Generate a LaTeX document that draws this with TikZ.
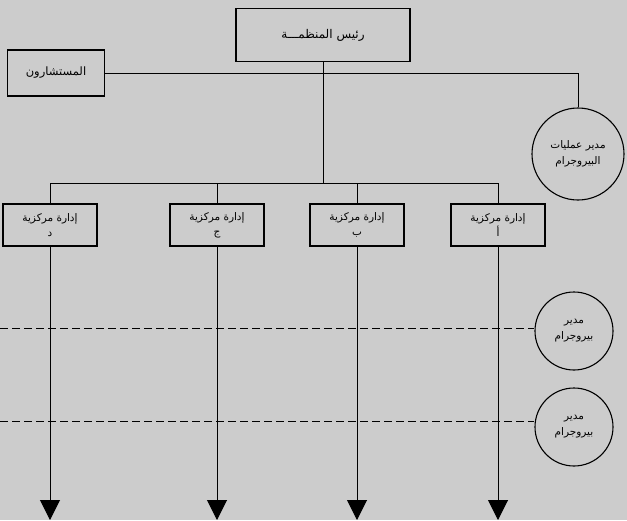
\documentclass[tikz,border=0pt]{standalone}
\usepackage{fontspec}
\newfontfamily\arabicfont[Script=Arabic]{DejaVu Sans}
\TeXXeTstate=1
\usetikzlibrary{arrows.meta}

\begin{document}
\begin{tikzpicture}[x=1pt,y=-1pt,
  unit/.style={draw,line width=1.1pt,minimum width=94pt,minimum height=42pt,inner sep=2pt,align=center,font=\arabicfont\fontsize{10.5}{15}\selectfont},
  manager/.style={draw,circle,line width=1.1pt,minimum size=78pt,inner sep=0pt,align=center,font=\arabicfont\fontsize{10.5}{16}\selectfont},
  tie/.style={line width=1pt},
  flow/.style={line width=1pt,-{Triangle[width=20pt,length=20pt]}},
  plan/.style={line width=1pt,dash pattern=on 8pt off 4pt}]
% define levels of the chart
\def\topy{73}
\def\busy{183}
\def\planay{328}
\def\planby{421}

% Add background
\fill[black!20] (0,0) rectangle (627,520);
\useasboundingbox (0,0) rectangle (627,520);

% Add head, advisers and operations manager
\node[unit,minimum width=174pt,minimum height=53pt,font=\arabicfont\fontsize{12}{14}\selectfont] (head) at (323,35) {\beginR رئيس المنظمـــة\endR};
\node[unit,minimum width=97pt,minimum height=46pt,font=\arabicfont\fontsize{11.5}{14}\selectfont] (advisers) at (56,\topy) {\beginR المستشارون\endR};
\node[manager,minimum size=92pt] (opsmgr) at (578,154) {\beginR مدير عمليات\endR\\\beginR البيروجرام\endR};

% Add central departments
\node[unit] (deptd) at (50,225) {\beginR إدارة مركزية\endR\\\beginR د\endR};
\node[unit] (deptj) at (217,225) {\beginR إدارة مركزية\endR\\\beginR ج\endR};
\node[unit] (deptb) at (357,225) {\beginR إدارة مركزية\endR\\\beginR ب\endR};
\node[unit] (depta) at (498,225) {\beginR إدارة مركزية\endR\\\beginR أ\endR};

% Add program managers
\node[manager] (planmgra) at (574,331) {\beginR مدير\endR\\\beginR بيروجرام\endR};
\node[manager] (planmgrb) at (574,427) {\beginR مدير\endR\\\beginR بيروجرام\endR};

% Add connectors of the top level
\draw[tie] (advisers.east) -| (opsmgr.north);
\draw[tie] (head.south) -- (head.south |- 0,\busy) coordinate (hub);
\draw[tie] (deptd.north |- hub) coordinate (busd) -- (depta.north |- hub) coordinate (busa);
\draw[tie] (busd) -- (deptd.north);
\draw[tie] (deptj.north |- hub) -- (deptj.north);
\draw[tie] (deptb.north |- hub) -- (deptb.north);
\draw[tie] (busa) -- (depta.north);

% Add dashed program lines
\coordinate (edgea) at (0,\planay);
\coordinate (edgeb) at (0,\planby);
\draw[plan] (edgea) -- (edgea -| planmgra.west);
\draw[plan] (edgeb) -- (edgeb -| planmgrb.west);

% Add arrows down from departments
\foreach \d in {deptd,deptj,deptb,depta}
  \draw[flow] (\d.south) -- (\d.south |- 0,520);

\end{tikzpicture}
\end{document}
